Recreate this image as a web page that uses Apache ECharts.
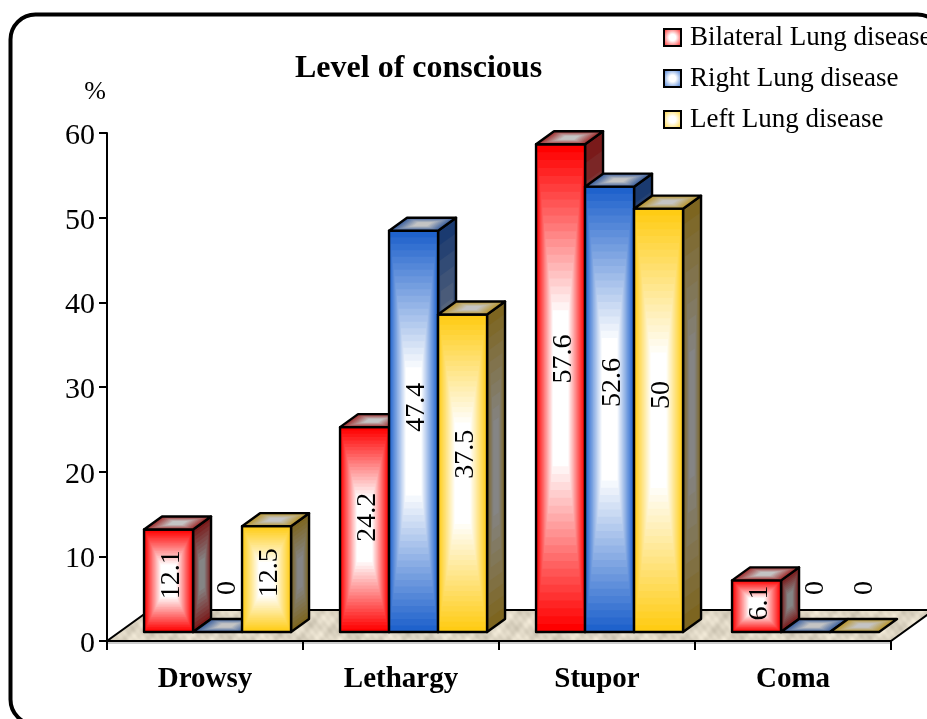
<!DOCTYPE html>
<html>
<head>
<meta charset="utf-8">
<style>html,body{margin:0;padding:0;background:#fff}#chart{width:927px;height:719px}</style>
<script src="https://cdn.jsdelivr.net/npm/echarts@6/dist/echarts.min.js"></script>
</head>
<body>
<div id="chart"></div>
<script>
// Level of consciousness by lung disease site (%)
const categories = ['Drowsy', 'Lethargy', 'Stupor', 'Coma'];
const bilateralLung = [12.1, 24.2, 57.6, 6.1];
const rightLung = [0, 47.4, 52.6, 0];
const leftLung = [12.5, 37.5, 50, 0];
const seriesNames = ['Bilateral Lung disease', 'Right Lung disease', 'Left Lung disease'];

const SERIF = '"Liberation Serif", "Times New Roman", serif';

// Face colours: [edge, centre] for the front, side and top of each bar family.
const palettes = [
  { front: ['#ff0000', '#ffffff'], side: ['#7a1a1a', '#858585'], top: ['#a02c2c', '#c4c4c4'] },
  { front: ['#1f62cc', '#ffffff'], side: ['#1a3a70', '#858585'], top: ['#3a5f9e', '#c4c4c4'] },
  { front: ['#ffcc14', '#ffffff'], side: ['#7d6520', '#858585'], top: ['#b8962e', '#c4c4c4'] }
];

function hexToRgb(h) {
  return [1, 3, 5].map(i => parseInt(h.substr(i, 2), 16));
}
function mix(a, b, t) {
  const A = hexToRgb(a), B = hexToRgb(b);
  return 'rgb(' + A.map((v, i) => Math.round(v + (B[i] - v) * t)).join(',') + ')';
}

// A face shaded from its edge to its centre colour in concentric bands;
// the centre colour is reached at `reach` of the way in and then holds.
function bandedFace(points, colours, bands, reach) {
  const cx = points.reduce((s, p) => s + p[0], 0) / points.length;
  const cy = points.reduce((s, p) => s + p[1], 0) / points.length;
  const out = [];
  for (let b = 0; b < bands; b++) {
    const k = 1 - reach * b / (bands - 1);
    out.push({
      type: 'polygon',
      shape: { points: points.map(p => [cx + (p[0] - cx) * k, cy + (p[1] - cy) * k]) },
      style: { fill: mix(colours[0], colours[1], b / (bands - 1)) }
    });
  }
  out.push({
    type: 'polygon',
    shape: { points: points },
    style: { fill: 'none', stroke: '#000', lineWidth: 2.4, lineJoin: 'round' }
  });
  return out;
}

// Bar geometry, as fractions of one category band.
const CLUSTER_START = 0.189;
const BAR_FRACTION = 0.25;
const DEPTH_X = 18, DEPTH_Y = 13;
const BASE_LIFT = 9;

function barRenderer(seriesIndex) {
  return function (params, api) {
    const cat = api.value(0), val = api.value(1);
    const band = api.size([1, 0])[0];
    const base = api.coord([cat, 0]);
    const head = api.coord([cat, val]);
    const w = band * BAR_FRACTION;
    const x0 = base[0] - band / 2 + band * CLUSTER_START + w * seriesIndex;
    const x1 = x0 + w;
    const yb = base[1] - BASE_LIFT;
    const yt = head[1] - BASE_LIFT;
    const pal = palettes[seriesIndex];
    const children = [];
    if (val > 0) {
      children.push(...bandedFace([[x1, yt], [x1 + DEPTH_X, yt - DEPTH_Y], [x1 + DEPTH_X, yb - DEPTH_Y], [x1, yb]], pal.side, 10, 0.7));
      children.push(...bandedFace([[x0, yb], [x1, yb], [x1, yt], [x0, yt]], pal.front, 22, 0.68));
    }
    children.push(...bandedFace([[x0, yt], [x1, yt], [x1 + DEPTH_X, yt - DEPTH_Y], [x0 + DEPTH_X, yt - DEPTH_Y]], pal.top, 10, 0.7));
    const zero = val === 0;
    children.push({
      type: 'text',
      x: (x0 + x1) / 2 + (zero ? 10 : 3),
      y: zero ? yb - 44 : yb - (yb - yt) * 0.56,
      rotation: Math.PI / 2,
      style: {
        text: String(val),
        fill: '#000',
        font: '28px ' + SERIF,
        align: 'center',
        verticalAlign: 'middle'
      }
    });
    return { type: 'group', children: children };
  };
}

// Soft mottled paper grain for the floor, tiled across the polygon.
function floorTexture() {
  const size = 128;
  const c = document.createElement('canvas');
  c.width = c.height = size;
  const g = c.getContext('2d');
  const w = Math.PI * 2 / size;
  for (let y = 0; y < size; y++) {
    for (let x = 0; x < size; x++) {
      const a = Math.sin(x * w * 5 + y * w * 3) + Math.sin(x * w * 2 - y * w * 7) +
        0.7 * Math.sin(x * w * 11 + y * w * 9 + 1) + 0.5 * Math.sin(x * w * 17 - y * w * 13);
      const n = 222 + a * 7;
      g.fillStyle = 'rgb(' + Math.round(n) + ',' + Math.round(n - 8) + ',' + Math.round(n - 26) + ')';
      g.fillRect(x, y, 1, 1);
    }
  }
  return c;
}

const FLOOR_X = 43, FLOOR_Y = 31;
function floorRenderer(params) {
  const s = params.coordSys;
  const bottom = s.y + s.height;
  return {
    type: 'group',
    children: [
      {
        type: 'polygon',
        shape: { points: [[s.x, bottom], [s.x + s.width, bottom], [s.x + s.width + FLOOR_X, bottom - FLOOR_Y], [s.x + FLOOR_X, bottom - FLOOR_Y]] },
        style: { fill: { image: floorTexture(), repeat: 'repeat' }, stroke: '#000', lineWidth: 2 }
      },
      {
        type: 'line',
        shape: { x1: s.x, y1: bottom + 2, x2: s.x + s.width, y2: bottom + 2 },
        style: { stroke: '#bdbdbd', lineWidth: 1.5 }
      }
    ]
  };
}

function legendSwatch(edge) {
  return {
    type: 'radial', x: 0.5, y: 0.5, r: 0.7,
    colorStops: [{ offset: 0, color: '#ffffff' }, { offset: 0.25, color: '#ffffff' }, { offset: 1, color: edge }]
  };
}

const chart = echarts.init(document.getElementById('chart'), null, { renderer: 'canvas' });
const toPairs = arr => arr.map((v, i) => [i, v]);
const valueSets = [bilateralLung, rightLung, leftLung];

chart.setOption({
  animation: false,
  backgroundColor: '#fff',
  title: {
    text: 'Level of conscious',
    left: 295,
    top: 53,
    padding: 0,
    textStyle: { fontFamily: SERIF, fontWeight: 'bold', fontSize: 32, color: '#000' }
  },
  legend: {
    orient: 'vertical',
    left: 663,
    top: 24,
    padding: 0,
    itemWidth: 17,
    itemHeight: 17,
    itemGap: 14,
    selectedMode: false,
    textStyle: { fontFamily: SERIF, fontSize: 27, color: '#000', padding: [0, 0, 0, 4] },
    data: seriesNames.map((name, i) => ({
      name: name,
      icon: 'rect',
      itemStyle: { color: legendSwatch(palettes[i].front[0]), borderColor: '#000', borderWidth: 2 }
    }))
  },
  grid: { left: 107, top: 133, width: 784, height: 508, containLabel: false },
  xAxis: {
    type: 'category',
    data: categories,
    z: 10,
    axisLine: { lineStyle: { color: '#000', width: 2 } },
    axisTick: { show: true, alignWithLabel: false, length: 9, lineStyle: { color: '#000', width: 2 } },
    axisLabel: { color: '#000', fontFamily: SERIF, fontWeight: 'bold', fontSize: 29, margin: 24 },
    splitLine: { show: false }
  },
  yAxis: {
    type: 'value',
    min: 0,
    max: 60,
    interval: 10,
    z: 10,
    name: '%',
    nameLocation: 'end',
    nameGap: 28,
    nameTextStyle: { color: '#000', fontFamily: SERIF, fontSize: 26, padding: [0, 24, 0, 0] },
    axisLine: { show: true, lineStyle: { color: '#000', width: 2 } },
    axisTick: { show: true, length: 8, lineStyle: { color: '#000', width: 2 } },
    axisLabel: { color: '#000', fontFamily: SERIF, fontSize: 30, margin: 12, verticalAlign: 'top', lineHeight: 6 },
    splitLine: { show: false }
  },
  graphic: [{
    type: 'rect',
    silent: true,
    z: 100,
    shape: { x: 10.5, y: 14.5, width: 932, height: 710, r: 25 },
    style: { fill: 'none', stroke: '#000', lineWidth: 4 }
  }],
  series: [
    { type: 'custom', silent: true, z: 1, coordinateSystem: 'cartesian2d', renderItem: floorRenderer, data: [[0, 0]], encode: { x: 0, y: 1 }, clip: false, legendHoverLink: false }
  ].concat(seriesNames.map((name, i) => ({
    type: 'custom',
    name: name,
    z: 2 + i,
    coordinateSystem: 'cartesian2d',
    renderItem: barRenderer(i),
    encode: { x: 0, y: 1 },
    data: toPairs(valueSets[i]),
    clip: false
  })))
});
</script>
</body>
</html>
